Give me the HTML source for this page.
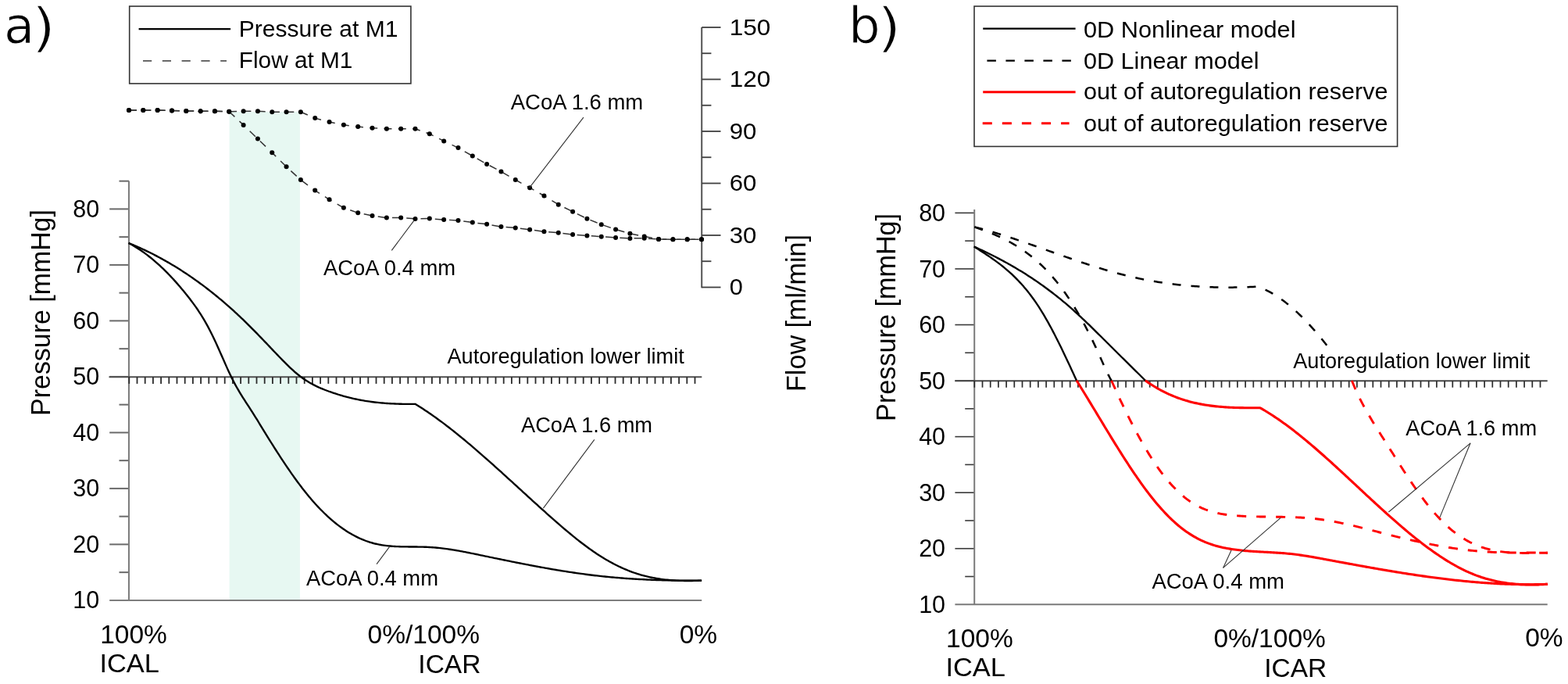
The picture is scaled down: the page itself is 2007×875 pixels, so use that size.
<!DOCTYPE html>
<html><head><meta charset="utf-8"><title>Figure</title>
<style>html,body{margin:0;padding:0;background:#fff;width:2007px;height:875px;overflow:hidden}svg{display:block}</style>
</head><body>
<svg width="2007" height="875" viewBox="0 0 2007 875">
<rect x="293.6" y="143" width="90.3" height="624.9" fill="#e7f8f2"/>
<line x1="152.5" y1="732.15" x2="165" y2="732.15" stroke="#6a6a6a" stroke-width="2.0" />
<line x1="140.2" y1="696.4" x2="165" y2="696.4" stroke="#6a6a6a" stroke-width="2.0" />
<line x1="152.5" y1="660.65" x2="165" y2="660.65" stroke="#6a6a6a" stroke-width="2.0" />
<line x1="140.2" y1="624.9" x2="165" y2="624.9" stroke="#6a6a6a" stroke-width="2.0" />
<line x1="152.5" y1="589.15" x2="165" y2="589.15" stroke="#6a6a6a" stroke-width="2.0" />
<line x1="140.2" y1="553.4" x2="165" y2="553.4" stroke="#6a6a6a" stroke-width="2.0" />
<line x1="152.5" y1="517.65" x2="165" y2="517.65" stroke="#6a6a6a" stroke-width="2.0" />
<line x1="140.2" y1="481.9" x2="165" y2="481.9" stroke="#6a6a6a" stroke-width="2.0" />
<line x1="152.5" y1="446.15" x2="165" y2="446.15" stroke="#6a6a6a" stroke-width="2.0" />
<line x1="140.2" y1="410.4" x2="165" y2="410.4" stroke="#6a6a6a" stroke-width="2.0" />
<line x1="152.5" y1="374.65" x2="165" y2="374.65" stroke="#6a6a6a" stroke-width="2.0" />
<line x1="140.2" y1="338.9" x2="165" y2="338.9" stroke="#6a6a6a" stroke-width="2.0" />
<line x1="152.5" y1="303.15" x2="165" y2="303.15" stroke="#6a6a6a" stroke-width="2.0" />
<line x1="140.2" y1="267.4" x2="165" y2="267.4" stroke="#6a6a6a" stroke-width="2.0" />
<line x1="152.5" y1="231.65" x2="165" y2="231.65" stroke="#6a6a6a" stroke-width="2.0" />
<line x1="165" y1="231.6" x2="165" y2="767.9" stroke="#7d7d7d" stroke-width="2.0" />
<line x1="140.2" y1="767.9" x2="898.2" y2="767.9" stroke="#7d7d7d" stroke-width="2.0" />
<text x="127.2" y="778.3" font-size="30.5" text-anchor="end" font-family='"Liberation Sans", Arial, sans-serif' >10</text>
<text x="127.2" y="706.8" font-size="30.5" text-anchor="end" font-family='"Liberation Sans", Arial, sans-serif' >20</text>
<text x="127.2" y="635.3" font-size="30.5" text-anchor="end" font-family='"Liberation Sans", Arial, sans-serif' >30</text>
<text x="127.2" y="563.8" font-size="30.5" text-anchor="end" font-family='"Liberation Sans", Arial, sans-serif' >40</text>
<text x="127.2" y="492.3" font-size="30.5" text-anchor="end" font-family='"Liberation Sans", Arial, sans-serif' >50</text>
<text x="127.2" y="420.8" font-size="30.5" text-anchor="end" font-family='"Liberation Sans", Arial, sans-serif' >60</text>
<text x="127.2" y="349.3" font-size="30.5" text-anchor="end" font-family='"Liberation Sans", Arial, sans-serif' >70</text>
<text x="127.2" y="277.8" font-size="30.5" text-anchor="end" font-family='"Liberation Sans", Arial, sans-serif' >80</text>
<line x1="898.2" y1="35" x2="898.2" y2="368.2" stroke="#555" stroke-width="2.0" />
<line x1="898.2" y1="367.5" x2="922.5" y2="367.5" stroke="#3f3f3f" stroke-width="1.8" />
<text x="933.75" y="377" font-size="29.5" text-anchor="start" font-family='"Liberation Sans", Arial, sans-serif' textLength="17.1" lengthAdjust="spacingAndGlyphs" >0</text>
<line x1="898.2" y1="334.25" x2="910.4" y2="334.25" stroke="#3f3f3f" stroke-width="1.8" />
<line x1="898.2" y1="301" x2="922.5" y2="301" stroke="#3f3f3f" stroke-width="1.8" />
<text x="933.75" y="310.5" font-size="29.5" text-anchor="start" font-family='"Liberation Sans", Arial, sans-serif' textLength="34.6" lengthAdjust="spacingAndGlyphs" >30</text>
<line x1="898.2" y1="267.75" x2="910.4" y2="267.75" stroke="#3f3f3f" stroke-width="1.8" />
<line x1="898.2" y1="234.5" x2="922.5" y2="234.5" stroke="#3f3f3f" stroke-width="1.8" />
<text x="933.75" y="244" font-size="29.5" text-anchor="start" font-family='"Liberation Sans", Arial, sans-serif' textLength="34.6" lengthAdjust="spacingAndGlyphs" >60</text>
<line x1="898.2" y1="201.25" x2="910.4" y2="201.25" stroke="#3f3f3f" stroke-width="1.8" />
<line x1="898.2" y1="168" x2="922.5" y2="168" stroke="#3f3f3f" stroke-width="1.8" />
<text x="933.75" y="177.5" font-size="29.5" text-anchor="start" font-family='"Liberation Sans", Arial, sans-serif' textLength="34.6" lengthAdjust="spacingAndGlyphs" >90</text>
<line x1="898.2" y1="134.75" x2="910.4" y2="134.75" stroke="#3f3f3f" stroke-width="1.8" />
<line x1="898.2" y1="101.5" x2="922.5" y2="101.5" stroke="#3f3f3f" stroke-width="1.8" />
<text x="933.75" y="111" font-size="29.5" text-anchor="start" font-family='"Liberation Sans", Arial, sans-serif' textLength="52.5" lengthAdjust="spacingAndGlyphs" >120</text>
<line x1="898.2" y1="68.25" x2="910.4" y2="68.25" stroke="#3f3f3f" stroke-width="1.8" />
<line x1="898.2" y1="35" x2="922.5" y2="35" stroke="#3f3f3f" stroke-width="1.8" />
<text x="933.75" y="44.5" font-size="29.5" text-anchor="start" font-family='"Liberation Sans", Arial, sans-serif' textLength="52.5" lengthAdjust="spacingAndGlyphs" >150</text>
<line x1="139.5" y1="482.2" x2="898.3" y2="482.2" stroke="#505050" stroke-width="1.9" />
<line x1="165.3" y1="482.2" x2="165.3" y2="490.9" stroke="#2b2b2b" stroke-width="1.8" />
<line x1="175.5" y1="482.2" x2="175.5" y2="490.9" stroke="#2b2b2b" stroke-width="1.8" />
<line x1="185.7" y1="482.2" x2="185.7" y2="490.9" stroke="#2b2b2b" stroke-width="1.8" />
<line x1="195.9" y1="482.2" x2="195.9" y2="490.9" stroke="#2b2b2b" stroke-width="1.8" />
<line x1="206.1" y1="482.2" x2="206.1" y2="490.9" stroke="#2b2b2b" stroke-width="1.8" />
<line x1="216.3" y1="482.2" x2="216.3" y2="490.9" stroke="#2b2b2b" stroke-width="1.8" />
<line x1="226.5" y1="482.2" x2="226.5" y2="490.9" stroke="#2b2b2b" stroke-width="1.8" />
<line x1="236.7" y1="482.2" x2="236.7" y2="490.9" stroke="#2b2b2b" stroke-width="1.8" />
<line x1="246.9" y1="482.2" x2="246.9" y2="490.9" stroke="#2b2b2b" stroke-width="1.8" />
<line x1="257.1" y1="482.2" x2="257.1" y2="490.9" stroke="#2b2b2b" stroke-width="1.8" />
<line x1="267.3" y1="482.2" x2="267.3" y2="490.9" stroke="#2b2b2b" stroke-width="1.8" />
<line x1="277.5" y1="482.2" x2="277.5" y2="490.9" stroke="#2b2b2b" stroke-width="1.8" />
<line x1="287.7" y1="482.2" x2="287.7" y2="490.9" stroke="#2b2b2b" stroke-width="1.8" />
<line x1="297.9" y1="482.2" x2="297.9" y2="490.9" stroke="#2b2b2b" stroke-width="1.8" />
<line x1="308.1" y1="482.2" x2="308.1" y2="490.9" stroke="#2b2b2b" stroke-width="1.8" />
<line x1="318.3" y1="482.2" x2="318.3" y2="490.9" stroke="#2b2b2b" stroke-width="1.8" />
<line x1="328.5" y1="482.2" x2="328.5" y2="490.9" stroke="#2b2b2b" stroke-width="1.8" />
<line x1="338.7" y1="482.2" x2="338.7" y2="490.9" stroke="#2b2b2b" stroke-width="1.8" />
<line x1="348.9" y1="482.2" x2="348.9" y2="490.9" stroke="#2b2b2b" stroke-width="1.8" />
<line x1="359.1" y1="482.2" x2="359.1" y2="490.9" stroke="#2b2b2b" stroke-width="1.8" />
<line x1="369.3" y1="482.2" x2="369.3" y2="490.9" stroke="#2b2b2b" stroke-width="1.8" />
<line x1="379.5" y1="482.2" x2="379.5" y2="490.9" stroke="#2b2b2b" stroke-width="1.8" />
<line x1="389.7" y1="482.2" x2="389.7" y2="490.9" stroke="#2b2b2b" stroke-width="1.8" />
<line x1="399.9" y1="482.2" x2="399.9" y2="490.9" stroke="#2b2b2b" stroke-width="1.8" />
<line x1="410.1" y1="482.2" x2="410.1" y2="490.9" stroke="#2b2b2b" stroke-width="1.8" />
<line x1="420.3" y1="482.2" x2="420.3" y2="490.9" stroke="#2b2b2b" stroke-width="1.8" />
<line x1="430.5" y1="482.2" x2="430.5" y2="490.9" stroke="#2b2b2b" stroke-width="1.8" />
<line x1="440.7" y1="482.2" x2="440.7" y2="490.9" stroke="#2b2b2b" stroke-width="1.8" />
<line x1="450.9" y1="482.2" x2="450.9" y2="490.9" stroke="#2b2b2b" stroke-width="1.8" />
<line x1="461.1" y1="482.2" x2="461.1" y2="490.9" stroke="#2b2b2b" stroke-width="1.8" />
<line x1="471.3" y1="482.2" x2="471.3" y2="490.9" stroke="#2b2b2b" stroke-width="1.8" />
<line x1="481.5" y1="482.2" x2="481.5" y2="490.9" stroke="#2b2b2b" stroke-width="1.8" />
<line x1="491.7" y1="482.2" x2="491.7" y2="490.9" stroke="#2b2b2b" stroke-width="1.8" />
<line x1="501.9" y1="482.2" x2="501.9" y2="490.9" stroke="#2b2b2b" stroke-width="1.8" />
<line x1="512.1" y1="482.2" x2="512.1" y2="490.9" stroke="#2b2b2b" stroke-width="1.8" />
<line x1="522.3" y1="482.2" x2="522.3" y2="490.9" stroke="#2b2b2b" stroke-width="1.8" />
<line x1="532.5" y1="482.2" x2="532.5" y2="490.9" stroke="#2b2b2b" stroke-width="1.8" />
<line x1="542.7" y1="482.2" x2="542.7" y2="490.9" stroke="#2b2b2b" stroke-width="1.8" />
<line x1="552.9" y1="482.2" x2="552.9" y2="490.9" stroke="#2b2b2b" stroke-width="1.8" />
<line x1="563.1" y1="482.2" x2="563.1" y2="490.9" stroke="#2b2b2b" stroke-width="1.8" />
<line x1="573.3" y1="482.2" x2="573.3" y2="490.9" stroke="#2b2b2b" stroke-width="1.8" />
<line x1="583.5" y1="482.2" x2="583.5" y2="490.9" stroke="#2b2b2b" stroke-width="1.8" />
<line x1="593.7" y1="482.2" x2="593.7" y2="490.9" stroke="#2b2b2b" stroke-width="1.8" />
<line x1="603.9" y1="482.2" x2="603.9" y2="490.9" stroke="#2b2b2b" stroke-width="1.8" />
<line x1="614.1" y1="482.2" x2="614.1" y2="490.9" stroke="#2b2b2b" stroke-width="1.8" />
<line x1="624.3" y1="482.2" x2="624.3" y2="490.9" stroke="#2b2b2b" stroke-width="1.8" />
<line x1="634.5" y1="482.2" x2="634.5" y2="490.9" stroke="#2b2b2b" stroke-width="1.8" />
<line x1="644.7" y1="482.2" x2="644.7" y2="490.9" stroke="#2b2b2b" stroke-width="1.8" />
<line x1="654.9" y1="482.2" x2="654.9" y2="490.9" stroke="#2b2b2b" stroke-width="1.8" />
<line x1="665.1" y1="482.2" x2="665.1" y2="490.9" stroke="#2b2b2b" stroke-width="1.8" />
<line x1="675.3" y1="482.2" x2="675.3" y2="490.9" stroke="#2b2b2b" stroke-width="1.8" />
<line x1="685.5" y1="482.2" x2="685.5" y2="490.9" stroke="#2b2b2b" stroke-width="1.8" />
<line x1="695.7" y1="482.2" x2="695.7" y2="490.9" stroke="#2b2b2b" stroke-width="1.8" />
<line x1="705.9" y1="482.2" x2="705.9" y2="490.9" stroke="#2b2b2b" stroke-width="1.8" />
<line x1="716.1" y1="482.2" x2="716.1" y2="490.9" stroke="#2b2b2b" stroke-width="1.8" />
<line x1="726.3" y1="482.2" x2="726.3" y2="490.9" stroke="#2b2b2b" stroke-width="1.8" />
<line x1="736.5" y1="482.2" x2="736.5" y2="490.9" stroke="#2b2b2b" stroke-width="1.8" />
<line x1="746.7" y1="482.2" x2="746.7" y2="490.9" stroke="#2b2b2b" stroke-width="1.8" />
<line x1="756.9" y1="482.2" x2="756.9" y2="490.9" stroke="#2b2b2b" stroke-width="1.8" />
<line x1="767.1" y1="482.2" x2="767.1" y2="490.9" stroke="#2b2b2b" stroke-width="1.8" />
<line x1="777.3" y1="482.2" x2="777.3" y2="490.9" stroke="#2b2b2b" stroke-width="1.8" />
<line x1="787.5" y1="482.2" x2="787.5" y2="490.9" stroke="#2b2b2b" stroke-width="1.8" />
<line x1="797.7" y1="482.2" x2="797.7" y2="490.9" stroke="#2b2b2b" stroke-width="1.8" />
<line x1="807.9" y1="482.2" x2="807.9" y2="490.9" stroke="#2b2b2b" stroke-width="1.8" />
<line x1="818.1" y1="482.2" x2="818.1" y2="490.9" stroke="#2b2b2b" stroke-width="1.8" />
<line x1="828.3" y1="482.2" x2="828.3" y2="490.9" stroke="#2b2b2b" stroke-width="1.8" />
<line x1="838.5" y1="482.2" x2="838.5" y2="490.9" stroke="#2b2b2b" stroke-width="1.8" />
<line x1="848.7" y1="482.2" x2="848.7" y2="490.9" stroke="#2b2b2b" stroke-width="1.8" />
<line x1="858.9" y1="482.2" x2="858.9" y2="490.9" stroke="#2b2b2b" stroke-width="1.8" />
<line x1="869.1" y1="482.2" x2="869.1" y2="490.9" stroke="#2b2b2b" stroke-width="1.8" />
<line x1="879.3" y1="482.2" x2="879.3" y2="490.9" stroke="#2b2b2b" stroke-width="1.8" />
<line x1="889.5" y1="482.2" x2="889.5" y2="490.9" stroke="#2b2b2b" stroke-width="1.8" />
<path d="M164.6,310.9 166.6,311.72 168.61,312.55 170.61,313.39 172.62,314.24 174.62,315.11 176.63,315.99 178.63,316.89 180.63,317.8 182.64,318.72 184.64,319.66 186.65,320.61 188.65,321.57 190.66,322.55 192.66,323.54 194.67,324.55 196.67,325.57 198.67,326.6 200.68,327.65 202.68,328.71 204.69,329.78 206.69,330.87 208.7,331.98 210.7,333.1 212.7,334.23 214.71,335.38 216.71,336.54 218.72,337.72 220.72,338.91 222.73,340.11 224.73,341.34 226.74,342.57 228.74,343.82 230.74,345.09 232.75,346.37 234.75,347.67 236.76,348.98 238.76,350.3 240.77,351.64 242.77,353 244.77,354.37 246.78,355.76 248.78,357.17 250.79,358.59 252.79,360.02 254.8,361.47 256.8,362.94 258.81,364.42 260.81,365.92 262.81,367.43 264.82,368.96 266.82,370.51 268.83,372.07 270.83,373.65 272.84,375.24 274.84,376.85 276.84,378.48 278.85,380.13 280.85,381.79 282.86,383.46 284.86,385.16 286.87,386.87 288.87,388.6 290.88,390.34 292.88,392.1 294.88,393.88 296.89,395.67 298.89,397.49 300.9,399.31 302.9,401.16 304.91,403.02 306.91,404.91 308.91,406.8 310.92,408.72 312.92,410.65 314.93,412.6 316.93,414.57 318.94,416.56 320.94,418.56 322.95,420.57 324.95,422.6 326.95,424.64 328.96,426.69 330.96,428.76 332.97,430.83 334.97,432.91 336.98,434.99 338.98,437.08 340.98,439.18 342.99,441.28 344.99,443.38 347,445.48 349,447.59 351.01,449.69 353.01,451.79 355.02,453.88 357.02,455.97 359.02,458.05 361.03,460.11 363.03,462.15 365.04,464.17 367.04,466.16 369.05,468.11 371.05,470.03 373.05,471.91 375.06,473.74 377.06,475.52 379.07,477.25 381.07,478.92 383.08,480.53 385.08,482.07 387.09,483.54 389.09,484.95 391.09,486.29 393.1,487.57 395.1,488.79 397.11,489.96 399.11,491.08 401.12,492.15 403.12,493.17 405.12,494.15 407.13,495.08 409.13,495.98 411.14,496.85 413.14,497.68 415.15,498.48 417.15,499.25 419.16,500 421.16,500.73 423.16,501.44 425.17,502.14 427.17,502.81 429.18,503.47 431.18,504.12 433.19,504.75 435.19,505.36 437.19,505.95 439.2,506.53 441.2,507.09 443.21,507.64 445.21,508.16 447.22,508.67 449.22,509.16 451.23,509.63 453.23,510.09 455.23,510.52 457.24,510.94 459.24,511.35 461.25,511.73 463.25,512.1 465.26,512.45 467.26,512.79 469.26,513.11 471.27,513.42 473.27,513.71 475.28,513.98 477.28,514.24 479.29,514.49 481.29,514.72 483.3,514.94 485.3,515.15 487.3,515.34 489.31,515.52 491.31,515.68 493.32,515.84 495.32,515.98 497.33,516.11 499.33,516.23 501.33,516.34 503.34,516.43 505.34,516.52 507.35,516.6 509.35,516.66 511.36,516.72 513.36,516.76 515.37,516.8 517.37,516.83 519.37,516.85 521.38,516.86 523.38,516.86 525.39,516.86 527.39,516.85 529.4,516.83 531.4,516.8 L531.4,516.8 533.4,518.03 535.41,519.27 537.41,520.53 539.42,521.81 541.42,523.1 543.42,524.42 545.43,525.75 547.43,527.09 549.43,528.46 551.44,529.84 553.44,531.23 555.45,532.64 557.45,534.07 559.45,535.51 561.46,536.96 563.46,538.43 565.47,539.92 567.47,541.41 569.47,542.93 571.48,544.45 573.48,545.99 575.48,547.54 577.49,549.1 579.49,550.68 581.5,552.26 583.5,553.86 585.5,555.47 587.51,557.09 589.51,558.72 591.51,560.36 593.52,562.02 595.52,563.68 597.53,565.35 599.53,567.03 601.53,568.72 603.54,570.42 605.54,572.12 607.55,573.84 609.55,575.56 611.55,577.29 613.56,579.03 615.56,580.78 617.56,582.53 619.57,584.29 621.57,586.05 623.58,587.82 625.58,589.6 627.58,591.38 629.59,593.17 631.59,594.96 633.6,596.76 635.6,598.56 637.6,600.37 639.61,602.17 641.61,603.99 643.61,605.8 645.62,607.62 647.62,609.44 649.63,611.26 651.63,613.09 653.63,614.91 655.64,616.74 657.64,618.57 659.64,620.4 661.65,622.23 663.65,624.06 665.66,625.9 667.66,627.73 669.66,629.56 671.67,631.39 673.67,633.22 675.68,635.04 677.68,636.87 679.68,638.69 681.69,640.52 683.69,642.34 685.69,644.15 687.7,645.97 689.7,647.78 691.71,649.58 693.71,651.39 695.71,653.18 697.72,654.98 699.72,656.77 701.73,658.55 703.73,660.33 705.73,662.11 707.74,663.87 709.74,665.64 711.74,667.39 713.75,669.14 715.75,670.88 717.76,672.61 719.76,674.33 721.76,676.05 723.77,677.75 725.77,679.44 727.77,681.12 729.78,682.78 731.78,684.43 733.79,686.07 735.79,687.69 737.79,689.3 739.8,690.89 741.8,692.46 743.81,694.01 745.81,695.55 747.81,697.06 749.82,698.56 751.82,700.03 753.82,701.48 755.83,702.91 757.83,704.32 759.84,705.7 761.84,707.06 763.84,708.4 765.85,709.71 767.85,710.99 769.86,712.25 771.86,713.49 773.86,714.7 775.87,715.89 777.87,717.05 779.87,718.18 781.88,719.29 783.88,720.37 785.89,721.43 787.89,722.46 789.89,723.47 791.9,724.45 793.9,725.4 795.9,726.32 797.91,727.22 799.91,728.09 801.92,728.94 803.92,729.76 805.92,730.55 807.93,731.31 809.93,732.04 811.94,732.75 813.94,733.43 815.94,734.08 817.95,734.7 819.95,735.3 821.95,735.86 823.96,736.41 825.96,736.93 827.97,737.42 829.97,737.89 831.97,738.33 833.98,738.75 835.98,739.15 837.99,739.52 839.99,739.88 841.99,740.21 844,740.52 846,740.81 848,741.08 850.01,741.32 852.01,741.55 854.02,741.76 856.02,741.96 858.02,742.13 860.03,742.29 862.03,742.43 864.03,742.55 866.04,742.66 868.04,742.75 870.05,742.83 872.05,742.89 874.05,742.94 876.06,742.97 878.06,743 880.07,743 882.07,743 884.07,742.99 886.08,742.96 888.08,742.92 890.08,742.88 892.09,742.82 894.09,742.76 896.1,742.68 898.1,742.6" fill="none" stroke="#000" stroke-width="2.35" stroke-linejoin="round" />
<path d="M164.6,310.9 166.6,311.97 168.61,313.08 170.61,314.22 172.62,315.41 174.62,316.65 176.62,317.92 178.63,319.23 180.63,320.58 182.64,321.97 184.64,323.41 186.65,324.88 188.65,326.39 190.65,327.95 192.66,329.54 194.66,331.17 196.67,332.85 198.67,334.56 200.67,336.31 202.68,338.1 204.68,339.93 206.69,341.8 208.69,343.71 210.69,345.66 212.7,347.65 214.7,349.67 216.71,351.74 218.71,353.84 220.71,355.98 222.72,358.16 224.72,360.38 226.73,362.64 228.73,364.94 230.74,367.27 232.74,369.64 234.74,372.05 236.75,374.5 238.75,376.98 240.76,379.5 242.76,382.06 244.76,384.68 246.77,387.35 248.77,390.08 250.78,392.9 252.78,395.79 254.78,398.78 256.79,401.87 258.79,405.07 260.8,408.39 262.8,411.83 264.8,415.41 266.81,419.14 268.81,423 270.82,426.98 272.82,431.08 274.83,435.29 276.83,439.58 278.83,443.97 280.84,448.42 282.84,452.94 284.85,457.5 286.85,462.07 288.85,466.62 290.86,471.12 292.86,475.51 294.87,479.77 296.87,483.88 298.87,487.82 300.88,491.6 302.88,495.22 304.89,498.71 306.89,502.09 308.9,505.37 310.9,508.57 312.9,511.71 314.91,514.8 316.91,517.88 318.92,520.95 320.92,524.03 322.92,527.14 324.93,530.3 326.93,533.51 328.94,536.74 330.94,540 332.94,543.27 334.95,546.55 336.95,549.82 338.96,553.09 340.96,556.34 342.96,559.58 344.97,562.8 346.97,566 348.98,569.19 350.98,572.35 352.99,575.5 354.99,578.62 356.99,581.72 359,584.8 361,587.85 363.01,590.87 365.01,593.87 367.01,596.84 369.02,599.78 371.02,602.69 373.03,605.56 375.03,608.4 377.03,611.21 379.04,613.98 381.04,616.71 383.05,619.41 385.05,622.06 387.05,624.68 389.06,627.25 391.06,629.78 393.07,632.27 395.07,634.71 397.08,637.1 399.08,639.45 401.08,641.75 403.09,644 405.09,646.2 407.1,648.36 409.1,650.47 411.1,652.53 413.11,654.54 415.11,656.51 417.12,658.43 419.12,660.3 421.12,662.13 423.13,663.91 425.13,665.64 427.14,667.33 429.14,668.97 431.15,670.56 433.15,672.11 435.15,673.61 437.16,675.07 439.16,676.48 441.17,677.84 443.17,679.16 445.17,680.44 447.18,681.67 449.18,682.85 451.19,683.99 453.19,685.08 455.19,686.13 457.2,687.14 459.2,688.1 461.21,689.01 463.21,689.88 465.21,690.71 467.22,691.49 469.22,692.23 471.23,692.93 473.23,693.58 475.24,694.19 477.24,694.75 479.24,695.27 481.25,695.75 483.25,696.2 485.26,696.6 487.26,696.97 489.26,697.31 491.27,697.61 493.27,697.88 495.28,698.13 497.28,698.35 499.28,698.54 501.29,698.71 503.29,698.85 505.3,698.98 507.3,699.08 509.3,699.17 511.31,699.25 513.31,699.31 515.32,699.36 517.32,699.4 519.33,699.43 521.33,699.45 523.33,699.47 525.34,699.48 527.34,699.49 529.35,699.5 531.35,699.51 533.35,699.53 535.36,699.55 537.36,699.57 539.37,699.61 541.37,699.65 543.37,699.71 545.38,699.78 547.38,699.86 549.39,699.96 551.39,700.07 553.4,700.21 555.4,700.36 557.4,700.53 559.41,700.72 561.41,700.92 563.42,701.13 565.42,701.36 567.42,701.61 569.43,701.87 571.43,702.14 573.44,702.42 575.44,702.72 577.44,703.02 579.45,703.34 581.45,703.67 583.46,704.01 585.46,704.35 587.46,704.71 589.47,705.07 591.47,705.44 593.48,705.82 595.48,706.2 597.49,706.59 599.49,706.99 601.49,707.39 603.5,707.79 605.5,708.2 607.51,708.61 609.51,709.02 611.51,709.44 613.52,709.86 615.52,710.28 617.53,710.69 619.53,711.11 621.53,711.53 623.54,711.95 625.54,712.37 627.55,712.78 629.55,713.2 631.55,713.61 633.56,714.03 635.56,714.44 637.57,714.86 639.57,715.27 641.58,715.68 643.58,716.09 645.58,716.5 647.59,716.91 649.59,717.32 651.6,717.72 653.6,718.13 655.6,718.53 657.61,718.93 659.61,719.33 661.62,719.73 663.62,720.13 665.62,720.52 667.63,720.92 669.63,721.31 671.64,721.7 673.64,722.08 675.65,722.47 677.65,722.85 679.65,723.24 681.66,723.61 683.66,723.99 685.67,724.37 687.67,724.74 689.67,725.11 691.68,725.47 693.68,725.84 695.69,726.2 697.69,726.56 699.69,726.91 701.7,727.27 703.7,727.62 705.71,727.97 707.71,728.31 709.71,728.65 711.72,728.99 713.72,729.32 715.73,729.65 717.73,729.98 719.74,730.31 721.74,730.63 723.74,730.95 725.75,731.26 727.75,731.57 729.76,731.88 731.76,732.18 733.76,732.48 735.77,732.77 737.77,733.06 739.78,733.35 741.78,733.63 743.78,733.91 745.79,734.18 747.79,734.45 749.8,734.72 751.8,734.98 753.8,735.23 755.81,735.48 757.81,735.73 759.82,735.97 761.82,736.21 763.83,736.44 765.83,736.67 767.83,736.89 769.84,737.11 771.84,737.32 773.85,737.53 775.85,737.73 777.85,737.93 779.86,738.13 781.86,738.32 783.87,738.5 785.87,738.68 787.87,738.86 789.88,739.03 791.88,739.2 793.89,739.36 795.89,739.52 797.9,739.67 799.9,739.82 801.9,739.97 803.91,740.11 805.91,740.24 807.92,740.38 809.92,740.5 811.92,740.63 813.93,740.75 815.93,740.87 817.94,740.98 819.94,741.09 821.94,741.19 823.95,741.29 825.95,741.39 827.96,741.48 829.96,741.57 831.96,741.66 833.97,741.74 835.97,741.82 837.98,741.89 839.98,741.96 841.99,742.03 843.99,742.09 845.99,742.15 848,742.21 850,742.26 852.01,742.31 854.01,742.36 856.01,742.4 858.02,742.44 860.02,742.48 862.03,742.51 864.03,742.54 866.03,742.57 868.04,742.59 870.04,742.61 872.05,742.63 874.05,742.65 876.05,742.66 878.06,742.67 880.06,742.67 882.07,742.68 884.07,742.68 886.08,742.67 888.08,742.67 890.08,742.66 892.09,742.65 894.09,742.63 896.1,742.62 898.1,742.6" fill="none" stroke="#000" stroke-width="2.35" stroke-linejoin="round" />
<path d="M165,141 L183.32,141 L201.65,141 L219.97,141.6 L238.3,141.9 L256.62,142.3 L274.95,142.3 L293.27,142.7 L311.6,142.3 L329.92,142.3 L348.25,143.2 L366.57,143.2 L384.9,143.2 L403.23,151.1 L421.55,156.1 L439.88,159.8 L458.2,162.1 L476.52,163.7 L494.85,164.8 L513.17,164.8 L531.5,164.8 L549.83,171.3 L568.15,180.4 L586.47,189.1 L604.8,199.5 L623.12,209.9 L641.45,219.5 L659.77,230 L678.1,240.2 L696.42,250.5 L714.75,261.7 L733.07,270.7 L751.4,279.8 L769.73,287.2 L788.05,293.5 L806.38,298.8 L824.7,302.5 L843.02,306 L861.35,306.3 L879.67,306.3 L898,306.3" fill="none" stroke="#333" stroke-width="1.5" stroke-dasharray="10 8.3" stroke-linejoin="round" />
<path d="M165,141 L183.32,141 L201.65,141 L219.97,141.6 L238.3,141.9 L256.62,142.3 L274.95,142.3 L293.27,142.7 L311.6,159.9 L329.92,177.6 L348.25,195.3 L366.57,213.3 L384.9,230.1 L403.23,243.6 L421.55,255.3 L439.88,265.8 L458.2,272.3 L476.52,276 L494.85,278.6 L513.17,278.6 L531.5,279.9 L549.83,279.6 L568.15,281 L586.47,282 L604.8,284.6 L623.12,286.8 L641.45,290.1 L659.77,291.4 L678.1,293.7 L696.42,296.3 L714.75,297.7 L733.07,300 L751.4,301.4 L769.73,302.8 L788.05,303.9 L806.38,304.9 L824.7,304.8 L843.02,306 L861.35,306.3 L879.67,306.3 L898,306.3" fill="none" stroke="#333" stroke-width="1.5" stroke-dasharray="10 8.3" stroke-linejoin="round" />
<circle cx="165" cy="141" r="3" fill="#000"/>
<circle cx="183.32" cy="141" r="3" fill="#000"/>
<circle cx="201.65" cy="141" r="3" fill="#000"/>
<circle cx="219.97" cy="141.6" r="3" fill="#000"/>
<circle cx="238.3" cy="141.9" r="3" fill="#000"/>
<circle cx="256.62" cy="142.3" r="3" fill="#000"/>
<circle cx="274.95" cy="142.3" r="3" fill="#000"/>
<circle cx="293.27" cy="142.7" r="3" fill="#000"/>
<circle cx="311.6" cy="142.3" r="3" fill="#000"/>
<circle cx="329.92" cy="142.3" r="3" fill="#000"/>
<circle cx="348.25" cy="143.2" r="3" fill="#000"/>
<circle cx="366.57" cy="143.2" r="3" fill="#000"/>
<circle cx="384.9" cy="143.2" r="3" fill="#000"/>
<circle cx="403.23" cy="151.1" r="3" fill="#000"/>
<circle cx="421.55" cy="156.1" r="3" fill="#000"/>
<circle cx="439.88" cy="159.8" r="3" fill="#000"/>
<circle cx="458.2" cy="162.1" r="3" fill="#000"/>
<circle cx="476.52" cy="163.7" r="3" fill="#000"/>
<circle cx="494.85" cy="164.8" r="3" fill="#000"/>
<circle cx="513.17" cy="164.8" r="3" fill="#000"/>
<circle cx="531.5" cy="164.8" r="3" fill="#000"/>
<circle cx="549.83" cy="171.3" r="3" fill="#000"/>
<circle cx="568.15" cy="180.4" r="3" fill="#000"/>
<circle cx="586.47" cy="189.1" r="3" fill="#000"/>
<circle cx="604.8" cy="199.5" r="3" fill="#000"/>
<circle cx="623.12" cy="209.9" r="3" fill="#000"/>
<circle cx="641.45" cy="219.5" r="3" fill="#000"/>
<circle cx="659.77" cy="230" r="3" fill="#000"/>
<circle cx="678.1" cy="240.2" r="3" fill="#000"/>
<circle cx="696.42" cy="250.5" r="3" fill="#000"/>
<circle cx="714.75" cy="261.7" r="3" fill="#000"/>
<circle cx="733.07" cy="270.7" r="3" fill="#000"/>
<circle cx="751.4" cy="279.8" r="3" fill="#000"/>
<circle cx="769.73" cy="287.2" r="3" fill="#000"/>
<circle cx="788.05" cy="293.5" r="3" fill="#000"/>
<circle cx="806.38" cy="298.8" r="3" fill="#000"/>
<circle cx="824.7" cy="302.5" r="3" fill="#000"/>
<circle cx="843.02" cy="306" r="3" fill="#000"/>
<circle cx="861.35" cy="306.3" r="3" fill="#000"/>
<circle cx="879.67" cy="306.3" r="3" fill="#000"/>
<circle cx="898" cy="306.3" r="3" fill="#000"/>
<circle cx="165" cy="141" r="3" fill="#000"/>
<circle cx="183.32" cy="141" r="3" fill="#000"/>
<circle cx="201.65" cy="141" r="3" fill="#000"/>
<circle cx="219.97" cy="141.6" r="3" fill="#000"/>
<circle cx="238.3" cy="141.9" r="3" fill="#000"/>
<circle cx="256.62" cy="142.3" r="3" fill="#000"/>
<circle cx="274.95" cy="142.3" r="3" fill="#000"/>
<circle cx="293.27" cy="142.7" r="3" fill="#000"/>
<circle cx="311.6" cy="159.9" r="3" fill="#000"/>
<circle cx="329.92" cy="177.6" r="3" fill="#000"/>
<circle cx="348.25" cy="195.3" r="3" fill="#000"/>
<circle cx="366.57" cy="213.3" r="3" fill="#000"/>
<circle cx="384.9" cy="230.1" r="3" fill="#000"/>
<circle cx="403.23" cy="243.6" r="3" fill="#000"/>
<circle cx="421.55" cy="255.3" r="3" fill="#000"/>
<circle cx="439.88" cy="265.8" r="3" fill="#000"/>
<circle cx="458.2" cy="272.3" r="3" fill="#000"/>
<circle cx="476.52" cy="276" r="3" fill="#000"/>
<circle cx="494.85" cy="278.6" r="3" fill="#000"/>
<circle cx="513.17" cy="278.6" r="3" fill="#000"/>
<circle cx="531.5" cy="279.9" r="3" fill="#000"/>
<circle cx="549.83" cy="279.6" r="3" fill="#000"/>
<circle cx="568.15" cy="281" r="3" fill="#000"/>
<circle cx="586.47" cy="282" r="3" fill="#000"/>
<circle cx="604.8" cy="284.6" r="3" fill="#000"/>
<circle cx="623.12" cy="286.8" r="3" fill="#000"/>
<circle cx="641.45" cy="290.1" r="3" fill="#000"/>
<circle cx="659.77" cy="291.4" r="3" fill="#000"/>
<circle cx="678.1" cy="293.7" r="3" fill="#000"/>
<circle cx="696.42" cy="296.3" r="3" fill="#000"/>
<circle cx="714.75" cy="297.7" r="3" fill="#000"/>
<circle cx="733.07" cy="300" r="3" fill="#000"/>
<circle cx="751.4" cy="301.4" r="3" fill="#000"/>
<circle cx="769.73" cy="302.8" r="3" fill="#000"/>
<circle cx="788.05" cy="303.9" r="3" fill="#000"/>
<circle cx="806.38" cy="304.9" r="3" fill="#000"/>
<circle cx="824.7" cy="304.8" r="3" fill="#000"/>
<circle cx="843.02" cy="306" r="3" fill="#000"/>
<circle cx="861.35" cy="306.3" r="3" fill="#000"/>
<circle cx="879.67" cy="306.3" r="3" fill="#000"/>
<circle cx="898" cy="306.3" r="3" fill="#000"/>
<line x1="746.9" y1="150.2" x2="677.7" y2="240.2" stroke="#333" stroke-width="1.1" />
<line x1="530.1" y1="281.8" x2="501.3" y2="320.4" stroke="#333" stroke-width="1.1" />
<line x1="695.4" y1="650.1" x2="760.8" y2="562.4" stroke="#333" stroke-width="1.1" />
<line x1="498.6" y1="699.4" x2="482.1" y2="721.7" stroke="#333" stroke-width="1.1" />
<text x="653.8" y="140.3" font-size="27" text-anchor="start" font-family='"Liberation Sans", Arial, sans-serif' textLength="169.4" lengthAdjust="spacingAndGlyphs" >ACoA 1.6 mm</text>
<text x="414" y="351.8" font-size="27" text-anchor="start" font-family='"Liberation Sans", Arial, sans-serif' textLength="169.2" lengthAdjust="spacingAndGlyphs" >ACoA 0.4 mm</text>
<text x="667" y="552.9" font-size="27" text-anchor="start" font-family='"Liberation Sans", Arial, sans-serif' textLength="168" lengthAdjust="spacingAndGlyphs" >ACoA 1.6 mm</text>
<text x="392" y="748.6" font-size="27" text-anchor="start" font-family='"Liberation Sans", Arial, sans-serif' textLength="169" lengthAdjust="spacingAndGlyphs" >ACoA 0.4 mm</text>
<text x="572.5" y="465.1" font-size="27" text-anchor="start" font-family='"Liberation Sans", Arial, sans-serif' textLength="303.3" lengthAdjust="spacingAndGlyphs" >Autoregulation lower limit</text>
<text x="128.2" y="822.7" font-size="33.5" text-anchor="start" font-family='"Liberation Sans", Arial, sans-serif' >100%</text>
<text x="127.4" y="860.3" font-size="33.5" text-anchor="start" font-family='"Liberation Sans", Arial, sans-serif' textLength="76.5" lengthAdjust="spacingAndGlyphs" >ICAL</text>
<text x="614" y="822.6" font-size="33.5" text-anchor="end" font-family='"Liberation Sans", Arial, sans-serif' >0%/100%</text>
<text x="615.4" y="860.8" font-size="33.5" text-anchor="end" font-family='"Liberation Sans", Arial, sans-serif' >ICAR</text>
<text x="918.1" y="822.6" font-size="33.5" text-anchor="end" font-family='"Liberation Sans", Arial, sans-serif' >0%</text>
<text transform="translate(63.6,400) rotate(-90)" font-size="34.5" text-anchor="middle" textLength="263.8" lengthAdjust="spacingAndGlyphs" font-family='"Liberation Sans", Arial, sans-serif'>Pressure [mmHg]</text>
<text transform="translate(1031,400.5) rotate(-90)" font-size="34.2" text-anchor="middle" textLength="201" lengthAdjust="spacingAndGlyphs" font-family='"Liberation Sans", Arial, sans-serif'>Flow [ml/min]</text>
<rect x="165.7" y="8" width="360.2" height="98.9" fill="#fff" stroke="#333" stroke-width="1.6"/>
<line x1="177.6" y1="37.1" x2="295.1" y2="37.1" stroke="#000" stroke-width="2.2" />
<line x1="183" y1="77.9" x2="290" y2="77.9" stroke="#555" stroke-width="1.7" stroke-dasharray="11.2 13.6"/>
<text x="305.8" y="47.2" font-size="29.5" text-anchor="start" font-family='"Liberation Sans", Arial, sans-serif' textLength="203.6" lengthAdjust="spacingAndGlyphs" >Pressure at M1</text>
<text x="305.8" y="87.4" font-size="29.5" text-anchor="start" font-family='"Liberation Sans", Arial, sans-serif' textLength="145.6" lengthAdjust="spacingAndGlyphs" >Flow at M1</text>
<text x="5" y="55" font-size="64" text-anchor="start" font-family='"DejaVu Sans", sans-serif' stroke="#fff" stroke-width="0.9">a</text>
<text transform="translate(40.0,58.8) scale(1.2,1)" font-size="68" stroke="#fff" stroke-width="1.6" font-family='"DejaVu Sans", sans-serif'>)</text>
<line x1="1235.2" y1="737.52" x2="1247.2" y2="737.52" stroke="#3a3a3a" stroke-width="1.6" />
<line x1="1222.4" y1="701.74" x2="1247.2" y2="701.74" stroke="#3a3a3a" stroke-width="1.6" />
<line x1="1235.2" y1="665.96" x2="1247.2" y2="665.96" stroke="#3a3a3a" stroke-width="1.6" />
<line x1="1222.4" y1="630.18" x2="1247.2" y2="630.18" stroke="#3a3a3a" stroke-width="1.6" />
<line x1="1235.2" y1="594.4" x2="1247.2" y2="594.4" stroke="#3a3a3a" stroke-width="1.6" />
<line x1="1222.4" y1="558.62" x2="1247.2" y2="558.62" stroke="#3a3a3a" stroke-width="1.6" />
<line x1="1235.2" y1="522.84" x2="1247.2" y2="522.84" stroke="#3a3a3a" stroke-width="1.6" />
<line x1="1222.4" y1="487.06" x2="1247.2" y2="487.06" stroke="#3a3a3a" stroke-width="1.6" />
<line x1="1235.2" y1="451.28" x2="1247.2" y2="451.28" stroke="#3a3a3a" stroke-width="1.6" />
<line x1="1222.4" y1="415.5" x2="1247.2" y2="415.5" stroke="#3a3a3a" stroke-width="1.6" />
<line x1="1235.2" y1="379.72" x2="1247.2" y2="379.72" stroke="#3a3a3a" stroke-width="1.6" />
<line x1="1222.4" y1="343.94" x2="1247.2" y2="343.94" stroke="#3a3a3a" stroke-width="1.6" />
<line x1="1235.2" y1="308.16" x2="1247.2" y2="308.16" stroke="#3a3a3a" stroke-width="1.6" />
<line x1="1222.4" y1="272.38" x2="1247.2" y2="272.38" stroke="#3a3a3a" stroke-width="1.6" />
<line x1="1247.2" y1="268" x2="1247.2" y2="773.3" stroke="#7a7a7a" stroke-width="2.0" />
<line x1="1222.4" y1="773.3" x2="1980.7" y2="773.3" stroke="#7a7a7a" stroke-width="2.0" />
<text x="1210.1" y="783.9" font-size="30.5" text-anchor="end" font-family='"Liberation Sans", Arial, sans-serif' >10</text>
<text x="1210.1" y="712.34" font-size="30.5" text-anchor="end" font-family='"Liberation Sans", Arial, sans-serif' >20</text>
<text x="1210.1" y="640.78" font-size="30.5" text-anchor="end" font-family='"Liberation Sans", Arial, sans-serif' >30</text>
<text x="1210.1" y="569.22" font-size="30.5" text-anchor="end" font-family='"Liberation Sans", Arial, sans-serif' >40</text>
<text x="1210.1" y="497.66" font-size="30.5" text-anchor="end" font-family='"Liberation Sans", Arial, sans-serif' >50</text>
<text x="1210.1" y="426.1" font-size="30.5" text-anchor="end" font-family='"Liberation Sans", Arial, sans-serif' >60</text>
<text x="1210.1" y="354.54" font-size="30.5" text-anchor="end" font-family='"Liberation Sans", Arial, sans-serif' >70</text>
<text x="1210.1" y="282.98" font-size="30.5" text-anchor="end" font-family='"Liberation Sans", Arial, sans-serif' >80</text>
<line x1="1222.4" y1="487.2" x2="1980.7" y2="487.2" stroke="#474747" stroke-width="1.9" />
<line x1="1247.3" y1="487.2" x2="1247.3" y2="495.7" stroke="#2b2b2b" stroke-width="1.7" />
<line x1="1257.5" y1="487.2" x2="1257.5" y2="495.7" stroke="#2b2b2b" stroke-width="1.7" />
<line x1="1267.7" y1="487.2" x2="1267.7" y2="495.7" stroke="#2b2b2b" stroke-width="1.7" />
<line x1="1277.9" y1="487.2" x2="1277.9" y2="495.7" stroke="#2b2b2b" stroke-width="1.7" />
<line x1="1288.1" y1="487.2" x2="1288.1" y2="495.7" stroke="#2b2b2b" stroke-width="1.7" />
<line x1="1298.3" y1="487.2" x2="1298.3" y2="495.7" stroke="#2b2b2b" stroke-width="1.7" />
<line x1="1308.5" y1="487.2" x2="1308.5" y2="495.7" stroke="#2b2b2b" stroke-width="1.7" />
<line x1="1318.7" y1="487.2" x2="1318.7" y2="495.7" stroke="#2b2b2b" stroke-width="1.7" />
<line x1="1328.9" y1="487.2" x2="1328.9" y2="495.7" stroke="#2b2b2b" stroke-width="1.7" />
<line x1="1339.1" y1="487.2" x2="1339.1" y2="495.7" stroke="#2b2b2b" stroke-width="1.7" />
<line x1="1349.3" y1="487.2" x2="1349.3" y2="495.7" stroke="#2b2b2b" stroke-width="1.7" />
<line x1="1359.5" y1="487.2" x2="1359.5" y2="495.7" stroke="#2b2b2b" stroke-width="1.7" />
<line x1="1369.7" y1="487.2" x2="1369.7" y2="495.7" stroke="#2b2b2b" stroke-width="1.7" />
<line x1="1379.9" y1="487.2" x2="1379.9" y2="495.7" stroke="#2b2b2b" stroke-width="1.7" />
<line x1="1390.1" y1="487.2" x2="1390.1" y2="495.7" stroke="#2b2b2b" stroke-width="1.7" />
<line x1="1400.3" y1="487.2" x2="1400.3" y2="495.7" stroke="#2b2b2b" stroke-width="1.7" />
<line x1="1410.5" y1="487.2" x2="1410.5" y2="495.7" stroke="#2b2b2b" stroke-width="1.7" />
<line x1="1420.7" y1="487.2" x2="1420.7" y2="495.7" stroke="#2b2b2b" stroke-width="1.7" />
<line x1="1430.9" y1="487.2" x2="1430.9" y2="495.7" stroke="#2b2b2b" stroke-width="1.7" />
<line x1="1441.1" y1="487.2" x2="1441.1" y2="495.7" stroke="#2b2b2b" stroke-width="1.7" />
<line x1="1451.3" y1="487.2" x2="1451.3" y2="495.7" stroke="#2b2b2b" stroke-width="1.7" />
<line x1="1461.5" y1="487.2" x2="1461.5" y2="495.7" stroke="#2b2b2b" stroke-width="1.7" />
<line x1="1471.7" y1="487.2" x2="1471.7" y2="495.7" stroke="#2b2b2b" stroke-width="1.7" />
<line x1="1481.9" y1="487.2" x2="1481.9" y2="495.7" stroke="#2b2b2b" stroke-width="1.7" />
<line x1="1492.1" y1="487.2" x2="1492.1" y2="495.7" stroke="#2b2b2b" stroke-width="1.7" />
<line x1="1502.3" y1="487.2" x2="1502.3" y2="495.7" stroke="#2b2b2b" stroke-width="1.7" />
<line x1="1512.5" y1="487.2" x2="1512.5" y2="495.7" stroke="#2b2b2b" stroke-width="1.7" />
<line x1="1522.7" y1="487.2" x2="1522.7" y2="495.7" stroke="#2b2b2b" stroke-width="1.7" />
<line x1="1532.9" y1="487.2" x2="1532.9" y2="495.7" stroke="#2b2b2b" stroke-width="1.7" />
<line x1="1543.1" y1="487.2" x2="1543.1" y2="495.7" stroke="#2b2b2b" stroke-width="1.7" />
<line x1="1553.3" y1="487.2" x2="1553.3" y2="495.7" stroke="#2b2b2b" stroke-width="1.7" />
<line x1="1563.5" y1="487.2" x2="1563.5" y2="495.7" stroke="#2b2b2b" stroke-width="1.7" />
<line x1="1573.7" y1="487.2" x2="1573.7" y2="495.7" stroke="#2b2b2b" stroke-width="1.7" />
<line x1="1583.9" y1="487.2" x2="1583.9" y2="495.7" stroke="#2b2b2b" stroke-width="1.7" />
<line x1="1594.1" y1="487.2" x2="1594.1" y2="495.7" stroke="#2b2b2b" stroke-width="1.7" />
<line x1="1604.3" y1="487.2" x2="1604.3" y2="495.7" stroke="#2b2b2b" stroke-width="1.7" />
<line x1="1614.5" y1="487.2" x2="1614.5" y2="495.7" stroke="#2b2b2b" stroke-width="1.7" />
<line x1="1624.7" y1="487.2" x2="1624.7" y2="495.7" stroke="#2b2b2b" stroke-width="1.7" />
<line x1="1634.9" y1="487.2" x2="1634.9" y2="495.7" stroke="#2b2b2b" stroke-width="1.7" />
<line x1="1645.1" y1="487.2" x2="1645.1" y2="495.7" stroke="#2b2b2b" stroke-width="1.7" />
<line x1="1655.3" y1="487.2" x2="1655.3" y2="495.7" stroke="#2b2b2b" stroke-width="1.7" />
<line x1="1665.5" y1="487.2" x2="1665.5" y2="495.7" stroke="#2b2b2b" stroke-width="1.7" />
<line x1="1675.7" y1="487.2" x2="1675.7" y2="495.7" stroke="#2b2b2b" stroke-width="1.7" />
<line x1="1685.9" y1="487.2" x2="1685.9" y2="495.7" stroke="#2b2b2b" stroke-width="1.7" />
<line x1="1696.1" y1="487.2" x2="1696.1" y2="495.7" stroke="#2b2b2b" stroke-width="1.7" />
<line x1="1706.3" y1="487.2" x2="1706.3" y2="495.7" stroke="#2b2b2b" stroke-width="1.7" />
<line x1="1716.5" y1="487.2" x2="1716.5" y2="495.7" stroke="#2b2b2b" stroke-width="1.7" />
<line x1="1726.7" y1="487.2" x2="1726.7" y2="495.7" stroke="#2b2b2b" stroke-width="1.7" />
<line x1="1736.9" y1="487.2" x2="1736.9" y2="495.7" stroke="#2b2b2b" stroke-width="1.7" />
<line x1="1747.1" y1="487.2" x2="1747.1" y2="495.7" stroke="#2b2b2b" stroke-width="1.7" />
<line x1="1757.3" y1="487.2" x2="1757.3" y2="495.7" stroke="#2b2b2b" stroke-width="1.7" />
<line x1="1767.5" y1="487.2" x2="1767.5" y2="495.7" stroke="#2b2b2b" stroke-width="1.7" />
<line x1="1777.7" y1="487.2" x2="1777.7" y2="495.7" stroke="#2b2b2b" stroke-width="1.7" />
<line x1="1787.9" y1="487.2" x2="1787.9" y2="495.7" stroke="#2b2b2b" stroke-width="1.7" />
<line x1="1798.1" y1="487.2" x2="1798.1" y2="495.7" stroke="#2b2b2b" stroke-width="1.7" />
<line x1="1808.3" y1="487.2" x2="1808.3" y2="495.7" stroke="#2b2b2b" stroke-width="1.7" />
<line x1="1818.5" y1="487.2" x2="1818.5" y2="495.7" stroke="#2b2b2b" stroke-width="1.7" />
<line x1="1828.7" y1="487.2" x2="1828.7" y2="495.7" stroke="#2b2b2b" stroke-width="1.7" />
<line x1="1838.9" y1="487.2" x2="1838.9" y2="495.7" stroke="#2b2b2b" stroke-width="1.7" />
<line x1="1849.1" y1="487.2" x2="1849.1" y2="495.7" stroke="#2b2b2b" stroke-width="1.7" />
<line x1="1859.3" y1="487.2" x2="1859.3" y2="495.7" stroke="#2b2b2b" stroke-width="1.7" />
<line x1="1869.5" y1="487.2" x2="1869.5" y2="495.7" stroke="#2b2b2b" stroke-width="1.7" />
<line x1="1879.7" y1="487.2" x2="1879.7" y2="495.7" stroke="#2b2b2b" stroke-width="1.7" />
<line x1="1889.9" y1="487.2" x2="1889.9" y2="495.7" stroke="#2b2b2b" stroke-width="1.7" />
<line x1="1900.1" y1="487.2" x2="1900.1" y2="495.7" stroke="#2b2b2b" stroke-width="1.7" />
<line x1="1910.3" y1="487.2" x2="1910.3" y2="495.7" stroke="#2b2b2b" stroke-width="1.7" />
<line x1="1920.5" y1="487.2" x2="1920.5" y2="495.7" stroke="#2b2b2b" stroke-width="1.7" />
<line x1="1930.7" y1="487.2" x2="1930.7" y2="495.7" stroke="#2b2b2b" stroke-width="1.7" />
<line x1="1940.9" y1="487.2" x2="1940.9" y2="495.7" stroke="#2b2b2b" stroke-width="1.7" />
<line x1="1951.1" y1="487.2" x2="1951.1" y2="495.7" stroke="#2b2b2b" stroke-width="1.7" />
<line x1="1961.3" y1="487.2" x2="1961.3" y2="495.7" stroke="#2b2b2b" stroke-width="1.7" />
<line x1="1971.5" y1="487.2" x2="1971.5" y2="495.7" stroke="#2b2b2b" stroke-width="1.7" />
<path d="M1247.4,290.4 1249.4,290.91 1251.41,291.43 1253.41,291.96 1255.41,292.5 1257.42,293.04 1259.42,293.6 1261.42,294.16 1263.43,294.73 1265.43,295.3 1267.43,295.88 1269.44,296.47 1271.44,297.07 1273.44,297.67 1275.45,298.27 1277.45,298.89 1279.45,299.51 1281.46,300.13 1283.46,300.76 1285.46,301.4 1287.47,302.04 1289.47,302.68 1291.47,303.33 1293.48,303.99 1295.48,304.65 1297.48,305.31 1299.49,305.98 1301.49,306.65 1303.49,307.33 1305.5,308.01 1307.5,308.69 1309.5,309.37 1311.51,310.06 1313.51,310.75 1315.51,311.44 1317.52,312.14 1319.52,312.84 1321.52,313.54 1323.53,314.24 1325.53,314.94 1327.53,315.65 1329.54,316.36 1331.54,317.06 1333.54,317.77 1335.55,318.48 1337.55,319.19 1339.55,319.9 1341.56,320.61 1343.56,321.32 1345.56,322.03 1347.57,322.75 1349.57,323.46 1351.57,324.17 1353.58,324.87 1355.58,325.58 1357.58,326.29 1359.59,326.99 1361.59,327.7 1363.59,328.4 1365.6,329.1 1367.6,329.8 1369.6,330.49 1371.61,331.19 1373.61,331.88 1375.61,332.56 1377.62,333.25 1379.62,333.93 1381.62,334.61 1383.63,335.29 1385.63,335.96 1387.63,336.62 1389.64,337.29 1391.64,337.95 1393.64,338.6 1395.65,339.25 1397.65,339.9 1399.65,340.54 1401.66,341.17 1403.66,341.8 1405.66,342.43 1407.67,343.05 1409.67,343.66 1411.67,344.27 1413.68,344.87 1415.68,345.46 1417.68,346.05 1419.69,346.63 1421.69,347.21 1423.69,347.78 1425.7,348.34 1427.7,348.89 1429.7,349.43 1431.7,349.97 1433.71,350.5 1435.71,351.02 1437.71,351.54 1439.72,352.04 1441.72,352.54 1443.72,353.02 1445.73,353.5 1447.73,353.97 1449.73,354.43 1451.74,354.88 1453.74,355.33 1455.74,355.76 1457.75,356.19 1459.75,356.61 1461.75,357.02 1463.76,357.42 1465.76,357.81 1467.76,358.19 1469.77,358.57 1471.77,358.94 1473.77,359.3 1475.78,359.65 1477.78,359.99 1479.78,360.33 1481.79,360.65 1483.79,360.97 1485.79,361.28 1487.8,361.59 1489.8,361.88 1491.8,362.17 1493.81,362.45 1495.81,362.72 1497.81,362.99 1499.82,363.24 1501.82,363.49 1503.82,363.73 1505.83,363.96 1507.83,364.19 1509.83,364.41 1511.84,364.62 1513.84,364.82 1515.84,365.02 1517.85,365.21 1519.85,365.39 1521.85,365.56 1523.86,365.73 1525.86,365.89 1527.86,366.04 1529.87,366.19 1531.87,366.32 1533.87,366.45 1535.88,366.58 1537.88,366.7 1539.88,366.81 1541.89,366.91 1543.89,367.01 1545.89,367.09 1547.9,367.18 1549.9,367.25 1551.9,367.32 1553.91,367.39 1555.91,367.44 1557.91,367.49 1559.92,367.53 1561.92,367.57 1563.92,367.6 1565.93,367.62 1567.93,367.64 1569.93,367.65 1571.94,367.66 1573.94,367.65 1575.94,367.65 1577.95,367.63 1579.95,367.61 1581.95,367.59 1583.96,367.55 1585.96,367.51 1587.96,367.47 1589.97,367.42 1591.97,367.36 1593.97,367.3 1595.98,367.23 1597.98,367.16 1599.98,367.08 1601.99,366.99 1603.99,366.9 1605.99,366.81 1608,366.7 1610,366.6 L1610,366.6 1612.01,367.34 1614.01,368.13 1616.02,368.97 1618.03,369.86 1620.03,370.8 1622.04,371.79 1624.05,372.83 1626.05,373.92 1628.06,375.05 1630.07,376.24 1632.07,377.47 1634.08,378.74 1636.09,380.07 1638.09,381.44 1640.1,382.85 1642.11,384.31 1644.11,385.82 1646.12,387.37 1648.13,388.96 1650.13,390.6 1652.14,392.28 1654.15,394 1656.15,395.76 1658.16,397.57 1660.17,399.42 1662.17,401.31 1664.18,403.23 1666.19,405.2 1668.19,407.21 1670.2,409.26 1672.21,411.35 1674.21,413.48 1676.22,415.64 1678.23,417.84 1680.23,420.08 1682.24,422.36 1684.25,424.67 1686.25,427.02 1688.26,429.41 1690.27,431.83 1692.27,434.28 1694.28,436.77 1696.29,439.3 1698.29,441.85 1700.3,444.44 1702.31,447.07 1704.31,449.72 1706.32,452.41 1708.33,455.13 1710.33,457.88 1712.34,460.66 1714.35,463.47 1716.35,466.31 1718.36,469.18 1720.37,472.08 1722.37,475.01 1724.38,477.97 1726.39,480.95 1728.39,483.96 1730.4,487" fill="none" stroke="#000" stroke-width="2.5" stroke-dasharray="11 13" stroke-linejoin="round" />
<path d="M1247.4,290.4 1249.41,291.11 1251.43,291.83 1253.44,292.55 1255.46,293.28 1257.47,294.02 1259.48,294.78 1261.5,295.54 1263.51,296.32 1265.52,297.11 1267.54,297.92 1269.55,298.74 1271.57,299.58 1273.58,300.44 1275.59,301.31 1277.61,302.21 1279.62,303.13 1281.63,304.07 1283.65,305.04 1285.66,306.03 1287.68,307.05 1289.69,308.09 1291.7,309.17 1293.72,310.27 1295.73,311.4 1297.74,312.57 1299.76,313.76 1301.77,315 1303.79,316.26 1305.8,317.57 1307.81,318.91 1309.83,320.28 1311.84,321.7 1313.86,323.16 1315.87,324.66 1317.88,326.2 1319.9,327.79 1321.91,329.42 1323.92,331.1 1325.94,332.82 1327.95,334.6 1329.97,336.42 1331.98,338.29 1333.99,340.22 1336.01,342.2 1338.02,344.23 1340.03,346.31 1342.05,348.46 1344.06,350.66 1346.08,352.92 1348.09,355.23 1350.1,357.61 1352.12,360.05 1354.13,362.55 1356.14,365.12 1358.16,367.75 1360.17,370.45 1362.19,373.21 1364.2,376.05 1366.21,378.95 1368.23,381.92 1370.24,384.97 1372.26,388.09 1374.27,391.28 1376.28,394.54 1378.3,397.88 1380.31,401.3 1382.32,404.8 1384.34,408.38 1386.35,412.04 1388.37,415.77 1390.38,419.59 1392.39,423.49 1394.41,427.46 1396.42,431.51 1398.43,435.64 1400.45,439.84 1402.46,444.12 1404.48,448.47 1406.49,452.89 1408.5,457.39 1410.52,461.94 1412.53,466.48 1414.54,470.95 1416.56,475.28 1418.57,479.41 1420.59,483.27 1422.6,486.8" fill="none" stroke="#000" stroke-width="2.5" stroke-dasharray="11 13" stroke-linejoin="round" />
<path d="M1246.8,315.5 1248.81,316.41 1250.82,317.33 1252.83,318.26 1254.84,319.2 1256.86,320.14 1258.87,321.09 1260.88,322.05 1262.89,323.03 1264.9,324.01 1266.91,325 1268.92,325.99 1270.93,327 1272.94,328.02 1274.95,329.05 1276.97,330.09 1278.98,331.15 1280.99,332.21 1283,333.28 1285.01,334.37 1287.02,335.46 1289.03,336.57 1291.04,337.69 1293.05,338.82 1295.06,339.97 1297.08,341.13 1299.09,342.3 1301.1,343.48 1303.11,344.68 1305.12,345.89 1307.13,347.11 1309.14,348.35 1311.15,349.6 1313.16,350.86 1315.17,352.14 1317.19,353.44 1319.2,354.75 1321.21,356.07 1323.22,357.41 1325.23,358.77 1327.24,360.14 1329.25,361.52 1331.26,362.93 1333.27,364.35 1335.28,365.78 1337.3,367.23 1339.31,368.7 1341.32,370.19 1343.33,371.69 1345.34,373.21 1347.35,374.75 1349.36,376.31 1351.37,377.88 1353.38,379.47 1355.39,381.08 1357.41,382.71 1359.42,384.36 1361.43,386.03 1363.44,387.72 1365.45,389.42 1367.46,391.15 1369.47,392.9 1371.48,394.66 1373.49,396.45 1375.5,398.26 1377.52,400.08 1379.53,401.92 1381.54,403.78 1383.55,405.65 1385.56,407.54 1387.57,409.44 1389.58,411.36 1391.59,413.29 1393.6,415.22 1395.61,417.17 1397.63,419.13 1399.64,421.1 1401.65,423.07 1403.66,425.05 1405.67,427.04 1407.68,429.03 1409.69,431.03 1411.7,433.03 1413.71,435.03 1415.72,437.03 1417.74,439.04 1419.75,441.04 1421.76,443.04 1423.77,445.04 1425.78,447.04 1427.79,449.03 1429.8,451.02 1431.81,453.01 1433.82,454.99 1435.83,456.97 1437.85,458.95 1439.86,460.93 1441.87,462.91 1443.88,464.89 1445.89,466.87 1447.9,468.85 1449.91,470.83 1451.92,472.81 1453.93,474.8 1455.94,476.79 1457.96,478.78 1459.97,480.78 1461.98,482.78 1463.99,484.78 1466,486.8" fill="none" stroke="#000" stroke-width="2.35" stroke-linejoin="round" />
<path d="M1246.8,315.5 1248.82,316.79 1250.84,318.07 1252.86,319.36 1254.87,320.66 1256.89,321.96 1258.91,323.27 1260.93,324.59 1262.95,325.92 1264.97,327.27 1266.98,328.64 1269,330.03 1271.02,331.44 1273.04,332.88 1275.06,334.34 1277.08,335.83 1279.1,337.36 1281.11,338.92 1283.13,340.51 1285.15,342.15 1287.17,343.82 1289.19,345.54 1291.21,347.3 1293.22,349.11 1295.24,350.97 1297.26,352.88 1299.28,354.85 1301.3,356.87 1303.32,358.95 1305.34,361.1 1307.35,363.31 1309.37,365.58 1311.39,367.92 1313.41,370.33 1315.43,372.81 1317.45,375.37 1319.46,378.01 1321.48,380.72 1323.5,383.52 1325.52,386.4 1327.54,389.37 1329.56,392.42 1331.58,395.57 1333.59,398.8 1335.61,402.14 1337.63,405.56 1339.65,409.06 1341.67,412.65 1343.69,416.32 1345.7,420.06 1347.72,423.87 1349.74,427.75 1351.76,431.69 1353.78,435.68 1355.8,439.74 1357.82,443.84 1359.83,447.99 1361.85,452.18 1363.87,456.41 1365.89,460.68 1367.91,464.98 1369.93,469.3 1371.94,473.65 1373.96,478.02 1375.98,482.41 1378,486.8" fill="none" stroke="#000" stroke-width="2.35" stroke-linejoin="round" />
<path d="M1422.6,486.79 1424.6,491.27 1426.6,495.7 1428.6,500.1 1430.61,504.45 1432.61,508.76 1434.61,513.02 1436.61,517.24 1438.61,521.41 1440.61,525.53 1442.61,529.61 1444.62,533.63 1446.62,537.6 1448.62,541.52 1450.62,545.39 1452.62,549.2 1454.62,552.96 1456.62,556.66 1458.63,560.3 1460.63,563.88 1462.63,567.41 1464.63,570.87 1466.63,574.27 1468.63,577.6 1470.63,580.87 1472.64,584.07 1474.64,587.21 1476.64,590.28 1478.64,593.27 1480.64,596.2 1482.64,599.06 1484.64,601.84 1486.65,604.55 1488.65,607.19 1490.65,609.75 1492.65,612.24 1494.65,614.66 1496.65,617.01 1498.65,619.28 1500.66,621.48 1502.66,623.61 1504.66,625.67 1506.66,627.66 1508.66,629.58 1510.66,631.42 1512.66,633.2 1514.67,634.9 1516.67,636.54 1518.67,638.1 1520.67,639.59 1522.67,641.02 1524.67,642.37 1526.67,643.66 1528.68,644.88 1530.68,646.04 1532.68,647.13 1534.68,648.16 1536.68,649.14 1538.68,650.06 1540.68,650.92 1542.69,651.73 1544.69,652.49 1546.69,653.19 1548.69,653.86 1550.69,654.47 1552.69,655.05 1554.69,655.58 1556.7,656.07 1558.7,656.53 1560.7,656.95 1562.7,657.33 1564.7,657.68 1566.7,658.01 1568.7,658.3 1570.71,658.57 1572.71,658.82 1574.71,659.04 1576.71,659.25 1578.71,659.43 1580.71,659.6 1582.71,659.75 1584.72,659.89 1586.72,660.02 1588.72,660.14 1590.72,660.25 1592.72,660.35 1594.72,660.44 1596.72,660.53 1598.73,660.6 1600.73,660.67 1602.73,660.73 1604.73,660.79 1606.73,660.84 1608.73,660.88 1610.73,660.92 1612.74,660.96 1614.74,660.99 1616.74,661.02 1618.74,661.04 1620.74,661.06 1622.74,661.09 1624.74,661.11 1626.75,661.13 1628.75,661.15 1630.75,661.17 1632.75,661.19 1634.75,661.21 1636.75,661.24 1638.75,661.26 1640.76,661.29 1642.76,661.33 1644.76,661.36 1646.76,661.41 1648.76,661.45 1650.76,661.51 1652.76,661.56 1654.77,661.63 1656.77,661.7 1658.77,661.78 1660.77,661.87 1662.77,661.97 1664.77,662.07 1666.77,662.19 1668.78,662.32 1670.78,662.45 1672.78,662.6 1674.78,662.76 1676.78,662.93 1678.78,663.12 1680.78,663.31 1682.79,663.53 1684.79,663.75 1686.79,663.99 1688.79,664.25 1690.79,664.52 1692.79,664.8 1694.79,665.09 1696.8,665.4 1698.8,665.72 1700.8,666.05 1702.8,666.39 1704.8,666.75 1706.8,667.11 1708.81,667.49 1710.81,667.87 1712.81,668.27 1714.81,668.67 1716.81,669.09 1718.81,669.51 1720.81,669.94 1722.82,670.38 1724.82,670.82 1726.82,671.27 1728.82,671.73 1730.82,672.2 1732.82,672.67 1734.82,673.15 1736.83,673.63 1738.83,674.12 1740.83,674.61 1742.83,675.11 1744.83,675.61 1746.83,676.11 1748.83,676.62 1750.84,677.12 1752.84,677.64 1754.84,678.15 1756.84,678.66 1758.84,679.18 1760.84,679.7 1762.84,680.21 1764.85,680.73 1766.85,681.25 1768.85,681.76 1770.85,682.28 1772.85,682.79 1774.85,683.31 1776.85,683.82 1778.86,684.32 1780.86,684.83 1782.86,685.33 1784.86,685.83 1786.86,686.32 1788.86,686.82 1790.86,687.3 1792.87,687.79 1794.87,688.27 1796.87,688.75 1798.87,689.22 1800.87,689.69 1802.87,690.15 1804.87,690.61 1806.88,691.07 1808.88,691.52 1810.88,691.97 1812.88,692.41 1814.88,692.85 1816.88,693.28 1818.88,693.71 1820.89,694.14 1822.89,694.55 1824.89,694.97 1826.89,695.37 1828.89,695.78 1830.89,696.17 1832.89,696.56 1834.9,696.95 1836.9,697.33 1838.9,697.7 1840.9,698.07 1842.9,698.43 1844.9,698.79 1846.9,699.13 1848.91,699.48 1850.91,699.81 1852.91,700.14 1854.91,700.46 1856.91,700.78 1858.91,701.09 1860.91,701.39 1862.92,701.68 1864.92,701.97 1866.92,702.25 1868.92,702.52 1870.92,702.79 1872.92,703.04 1874.92,703.29 1876.93,703.54 1878.93,703.77 1880.93,703.99 1882.93,704.21 1884.93,704.42 1886.93,704.62 1888.93,704.81 1890.94,705 1892.94,705.17 1894.94,705.34 1896.94,705.5 1898.94,705.64 1900.94,705.78 1902.94,705.91 1904.95,706.03 1906.95,706.15 1908.95,706.25 1910.95,706.34 1912.95,706.43 1914.95,706.51 1916.95,706.58 1918.96,706.64 1920.96,706.7 1922.96,706.75 1924.96,706.8 1926.96,706.84 1928.96,706.87 1930.96,706.91 1932.97,706.93 1934.97,706.95 1936.97,706.97 1938.97,706.99 1940.97,707 1942.97,707.01 1944.97,707.02 1946.98,707.02 1948.98,707.03 1950.98,707.03 1952.98,707.03 1954.98,707.03 1956.98,707.04 1958.98,707.04 1960.99,707.04 1962.99,707.05 1964.99,707.05 1966.99,707.06 1968.99,707.07 1970.99,707.08 1972.99,707.1 1975,707.12 1977,707.14 1979,707.17 1981,707.2" fill="none" stroke="#ff0000" stroke-width="2.9" stroke-dasharray="12 13" stroke-linejoin="round" />
<path d="M1730.4,487 1732.4,491.94 1734.41,496.65 1736.41,501.15 1738.42,505.47 1740.42,509.61 1742.43,513.6 1744.43,517.44 1746.44,521.16 1748.44,524.76 1750.45,528.27 1752.45,531.7 1754.46,535.06 1756.46,538.38 1758.47,541.65 1760.47,544.9 1762.48,548.12 1764.48,551.31 1766.49,554.49 1768.49,557.66 1770.5,560.82 1772.5,563.98 1774.51,567.14 1776.51,570.3 1778.52,573.48 1780.52,576.66 1782.52,579.84 1784.53,583.02 1786.53,586.19 1788.54,589.36 1790.54,592.52 1792.55,595.67 1794.55,598.8 1796.56,601.92 1798.56,605.02 1800.57,608.09 1802.57,611.14 1804.58,614.16 1806.58,617.15 1808.59,620.11 1810.59,623.03 1812.6,625.91 1814.6,628.75 1816.61,631.54 1818.61,634.29 1820.62,636.99 1822.62,639.65 1824.63,642.25 1826.63,644.81 1828.64,647.32 1830.64,649.78 1832.64,652.19 1834.65,654.54 1836.65,656.85 1838.66,659.1 1840.66,661.3 1842.67,663.44 1844.67,665.53 1846.68,667.56 1848.68,669.54 1850.69,671.45 1852.69,673.31 1854.7,675.11 1856.7,676.86 1858.71,678.54 1860.71,680.16 1862.72,681.72 1864.72,683.22 1866.73,684.66 1868.73,686.05 1870.74,687.37 1872.74,688.65 1874.75,689.86 1876.75,691.03 1878.76,692.14 1880.76,693.21 1882.76,694.22 1884.77,695.19 1886.77,696.1 1888.78,696.98 1890.78,697.8 1892.79,698.59 1894.79,699.33 1896.8,700.03 1898.8,700.69 1900.81,701.31 1902.81,701.89 1904.82,702.43 1906.82,702.94 1908.83,703.42 1910.83,703.86 1912.84,704.27 1914.84,704.65 1916.85,704.99 1918.85,705.31 1920.86,705.61 1922.86,705.87 1924.87,706.11 1926.87,706.33 1928.88,706.52 1930.88,706.69 1932.88,706.84 1934.89,706.97 1936.89,707.08 1938.9,707.18 1940.9,707.26 1942.91,707.32 1944.91,707.37 1946.92,707.41 1948.92,707.43 1950.93,707.45 1952.93,707.45 1954.94,707.45 1956.94,707.44 1958.95,707.42 1960.95,707.4 1962.96,707.38 1964.96,707.36 1966.97,707.33 1968.97,707.3 1970.98,707.27 1972.98,707.25 1974.99,707.23 1976.99,707.21 1979,707.2 1981,707.2" fill="none" stroke="#ff0000" stroke-width="2.9" stroke-dasharray="12 13" stroke-linejoin="round" />
<path d="M1466,486.8 1468.01,488.23 1470.03,489.61 1472.04,490.96 1474.05,492.26 1476.07,493.53 1478.08,494.77 1480.1,495.96 1482.11,497.12 1484.12,498.25 1486.14,499.34 1488.15,500.4 1490.16,501.42 1492.18,502.41 1494.19,503.36 1496.21,504.29 1498.22,505.18 1500.23,506.04 1502.25,506.88 1504.26,507.68 1506.27,508.45 1508.29,509.19 1510.3,509.91 1512.32,510.6 1514.33,511.26 1516.34,511.89 1518.36,512.5 1520.37,513.08 1522.38,513.64 1524.4,514.18 1526.41,514.68 1528.42,515.17 1530.44,515.63 1532.45,516.08 1534.47,516.49 1536.48,516.89 1538.49,517.27 1540.51,517.63 1542.52,517.97 1544.53,518.29 1546.55,518.59 1548.56,518.87 1550.58,519.14 1552.59,519.39 1554.6,519.62 1556.62,519.84 1558.63,520.04 1560.64,520.23 1562.66,520.4 1564.67,520.56 1566.68,520.71 1568.7,520.84 1570.71,520.97 1572.73,521.08 1574.74,521.18 1576.75,521.27 1578.77,521.35 1580.78,521.43 1582.79,521.49 1584.81,521.55 1586.82,521.59 1588.84,521.64 1590.85,521.67 1592.86,521.7 1594.88,521.73 1596.89,521.75 1598.9,521.76 1600.92,521.77 1602.93,521.78 1604.95,521.79 1606.96,521.79 1608.97,521.8 1610.99,521.8 1613,521.8 L1613,521.8 1615,522.94 1617,524.1 1619,525.28 1621,526.49 1623,527.71 1625,528.96 1627,530.24 1629,531.53 1631,532.84 1633,534.18 1635,535.53 1637,536.9 1639,538.3 1641,539.71 1643,541.14 1645,542.58 1647,544.05 1649,545.53 1651,547.03 1653,548.55 1655,550.08 1657,551.63 1659,553.19 1661,554.77 1663,556.37 1665,557.97 1667,559.59 1669,561.23 1671,562.88 1673,564.54 1675,566.21 1677,567.9 1679,569.59 1681,571.3 1683,573.02 1685,574.75 1687,576.48 1689,578.23 1691,579.99 1693,581.76 1695,583.53 1697,585.31 1699,587.11 1701,588.9 1703,590.71 1705,592.52 1707,594.34 1709,596.16 1711,597.99 1713,599.82 1715,601.66 1717,603.51 1719,605.35 1721,607.2 1723,609.06 1725,610.91 1727,612.77 1729,614.63 1731,616.49 1733,618.36 1735,620.22 1737,622.08 1739,623.95 1741,625.81 1743,627.67 1745,629.54 1747,631.4 1749,633.26 1751,635.11 1753,636.97 1755,638.82 1757,640.66 1759,642.51 1761,644.35 1763,646.18 1765,648.01 1767,649.84 1769,651.65 1771,653.47 1773,655.27 1775,657.07 1777,658.87 1779,660.65 1781,662.43 1783,664.19 1785,665.95 1787,667.7 1789,669.44 1791,671.17 1793,672.89 1795,674.6 1797,676.3 1799,677.99 1801,679.66 1803,681.33 1805,682.98 1807,684.62 1809,686.24 1811,687.85 1813,689.45 1815,691.03 1817,692.59 1819,694.15 1821,695.68 1823,697.2 1825,698.7 1827,700.19 1829,701.66 1831,703.11 1833,704.55 1835,705.96 1837,707.36 1839,708.74 1841,710.09 1843,711.43 1845,712.75 1847,714.05 1849,715.33 1851,716.58 1853,717.81 1855,719.03 1857,720.21 1859,721.38 1861,722.52 1863,723.64 1865,724.74 1867,725.81 1869,726.85 1871,727.87 1873,728.87 1875,729.84 1877,730.78 1879,731.7 1881,732.59 1883,733.45 1885,734.28 1887,735.09 1889,735.86 1891,736.61 1893,737.33 1895,738.02 1897,738.69 1899,739.32 1901,739.94 1903,740.52 1905,741.08 1907,741.61 1909,742.12 1911,742.61 1913,743.07 1915,743.5 1917,743.92 1919,744.31 1921,744.68 1923,745.02 1925,745.35 1927,745.65 1929,745.93 1931,746.19 1933,746.43 1935,746.66 1937,746.86 1939,747.04 1941,747.21 1943,747.36 1945,747.49 1947,747.6 1949,747.7 1951,747.78 1953,747.84 1955,747.89 1957,747.92 1959,747.94 1961,747.95 1963,747.94 1965,747.92 1967,747.88 1969,747.83 1971,747.77 1973,747.7 1975,747.61 1977,747.52 1979,747.41 1981,747.3" fill="none" stroke="#ff0000" stroke-width="3.1" stroke-linejoin="round" />
<path d="M1378,486.8 1380,490 1382.01,493.22 1384.01,496.46 1386.01,499.71 1388.02,502.97 1390.02,506.25 1392.02,509.53 1394.03,512.83 1396.03,516.13 1398.03,519.43 1400.04,522.74 1402.04,526.06 1404.04,529.37 1406.05,532.69 1408.05,536 1410.05,539.32 1412.06,542.63 1414.06,545.93 1416.06,549.23 1418.07,552.52 1420.07,555.81 1422.07,559.08 1424.08,562.34 1426.08,565.59 1428.08,568.82 1430.09,572.04 1432.09,575.24 1434.09,578.43 1436.1,581.59 1438.1,584.73 1440.1,587.85 1442.11,590.95 1444.11,594.02 1446.11,597.07 1448.12,600.09 1450.12,603.08 1452.12,606.04 1454.13,608.97 1456.13,611.86 1458.13,614.72 1460.14,617.55 1462.14,620.34 1464.14,623.09 1466.15,625.8 1468.15,628.48 1470.15,631.11 1472.16,633.7 1474.16,636.25 1476.16,638.76 1478.17,641.22 1480.17,643.64 1482.17,646.01 1484.18,648.33 1486.18,650.61 1488.18,652.83 1490.19,655.01 1492.19,657.13 1494.19,659.2 1496.2,661.22 1498.2,663.19 1500.2,665.1 1502.21,666.96 1504.21,668.76 1506.21,670.51 1508.22,672.2 1510.22,673.84 1512.22,675.43 1514.23,676.97 1516.23,678.46 1518.23,679.89 1520.24,681.28 1522.24,682.61 1524.24,683.9 1526.25,685.14 1528.25,686.32 1530.25,687.46 1532.26,688.55 1534.26,689.6 1536.26,690.59 1538.27,691.54 1540.27,692.45 1542.27,693.31 1544.28,694.13 1546.28,694.9 1548.28,695.63 1550.29,696.33 1552.29,696.99 1554.29,697.61 1556.3,698.2 1558.3,698.75 1560.3,699.27 1562.31,699.76 1564.31,700.23 1566.31,700.66 1568.32,701.07 1570.32,701.45 1572.32,701.82 1574.33,702.15 1576.33,702.47 1578.33,702.77 1580.34,703.06 1582.34,703.32 1584.34,703.57 1586.35,703.8 1588.35,704.02 1590.35,704.23 1592.36,704.42 1594.36,704.6 1596.36,704.78 1598.37,704.94 1600.37,705.09 1602.37,705.23 1604.38,705.37 1606.38,705.5 1608.38,705.62 1610.39,705.74 1612.39,705.85 1614.39,705.96 1616.4,706.07 1618.4,706.18 1620.4,706.28 1622.41,706.39 1624.41,706.5 1626.41,706.61 1628.42,706.72 1630.42,706.83 1632.42,706.95 1634.43,707.08 1636.43,707.21 1638.43,707.34 1640.44,707.49 1642.44,707.64 1644.44,707.81 1646.45,707.98 1648.45,708.17 1650.45,708.36 1652.46,708.57 1654.46,708.79 1656.46,709.03 1658.47,709.28 1660.47,709.54 1662.47,709.81 1664.48,710.09 1666.48,710.38 1668.48,710.68 1670.49,710.99 1672.49,711.31 1674.49,711.63 1676.5,711.96 1678.5,712.3 1680.5,712.65 1682.5,713 1684.51,713.35 1686.51,713.71 1688.51,714.07 1690.52,714.44 1692.52,714.81 1694.52,715.18 1696.53,715.55 1698.53,715.92 1700.53,716.3 1702.54,716.67 1704.54,717.04 1706.54,717.42 1708.55,717.79 1710.55,718.16 1712.55,718.53 1714.56,718.9 1716.56,719.27 1718.56,719.64 1720.57,720.01 1722.57,720.38 1724.57,720.75 1726.58,721.12 1728.58,721.48 1730.58,721.85 1732.59,722.21 1734.59,722.58 1736.59,722.94 1738.6,723.31 1740.6,723.67 1742.6,724.03 1744.61,724.39 1746.61,724.75 1748.61,725.1 1750.62,725.46 1752.62,725.81 1754.62,726.17 1756.63,726.52 1758.63,726.87 1760.63,727.22 1762.64,727.57 1764.64,727.92 1766.64,728.26 1768.65,728.61 1770.65,728.95 1772.65,729.29 1774.66,729.63 1776.66,729.96 1778.66,730.3 1780.67,730.63 1782.67,730.96 1784.67,731.29 1786.68,731.62 1788.68,731.94 1790.68,732.27 1792.69,732.59 1794.69,732.91 1796.69,733.23 1798.7,733.54 1800.7,733.85 1802.7,734.16 1804.71,734.47 1806.71,734.78 1808.71,735.08 1810.72,735.38 1812.72,735.68 1814.72,735.97 1816.73,736.27 1818.73,736.56 1820.73,736.84 1822.74,737.13 1824.74,737.41 1826.74,737.69 1828.75,737.97 1830.75,738.24 1832.75,738.51 1834.76,738.78 1836.76,739.04 1838.76,739.3 1840.77,739.56 1842.77,739.82 1844.77,740.07 1846.78,740.32 1848.78,740.56 1850.78,740.8 1852.79,741.04 1854.79,741.28 1856.79,741.51 1858.8,741.74 1860.8,741.96 1862.8,742.18 1864.81,742.4 1866.81,742.61 1868.81,742.82 1870.82,743.03 1872.82,743.23 1874.82,743.43 1876.83,743.62 1878.83,743.81 1880.83,744 1882.84,744.18 1884.84,744.36 1886.84,744.54 1888.85,744.71 1890.85,744.87 1892.85,745.03 1894.86,745.19 1896.86,745.35 1898.86,745.49 1900.87,745.64 1902.87,745.78 1904.87,745.91 1906.88,746.04 1908.88,746.17 1910.88,746.29 1912.89,746.41 1914.89,746.52 1916.89,746.63 1918.9,746.73 1920.9,746.83 1922.9,746.92 1924.91,747.01 1926.91,747.09 1928.91,747.17 1930.92,747.24 1932.92,747.31 1934.92,747.38 1936.93,747.43 1938.93,747.48 1940.93,747.53 1942.94,747.57 1944.94,747.61 1946.94,747.64 1948.95,747.67 1950.95,747.69 1952.95,747.7 1954.96,747.71 1956.96,747.71 1958.96,747.71 1960.97,747.7 1962.97,747.69 1964.97,747.67 1966.98,747.64 1968.98,747.61 1970.98,747.57 1972.99,747.53 1974.99,747.48 1976.99,747.43 1979,747.37 1981,747.3" fill="none" stroke="#ff0000" stroke-width="3.1" stroke-linejoin="round" />
<rect x="1652" y="445" width="310" height="40.5" fill="#fff"/>
<text x="1655.2" y="470.9" font-size="27" text-anchor="start" font-family='"Liberation Sans", Arial, sans-serif' textLength="303.2" lengthAdjust="spacingAndGlyphs" >Autoregulation lower limit</text>
<line x1="1882.1" y1="566.8" x2="1777.3" y2="655.1" stroke="#333" stroke-width="1.1" />
<line x1="1882.1" y1="566.8" x2="1842.9" y2="661.9" stroke="#333" stroke-width="1.1" />
<line x1="1565.6" y1="726.4" x2="1576" y2="704" stroke="#333" stroke-width="1.1" />
<line x1="1565.6" y1="726.4" x2="1639.2" y2="662.4" stroke="#333" stroke-width="1.1" />
<text x="1799.3" y="556.5" font-size="27" text-anchor="start" font-family='"Liberation Sans", Arial, sans-serif' textLength="167.8" lengthAdjust="spacingAndGlyphs" >ACoA 1.6 mm</text>
<text x="1474.4" y="753.3" font-size="27" text-anchor="start" font-family='"Liberation Sans", Arial, sans-serif' textLength="169.6" lengthAdjust="spacingAndGlyphs" >ACoA 0.4 mm</text>
<text x="1211.1" y="827.8" font-size="33.5" text-anchor="start" font-family='"Liberation Sans", Arial, sans-serif' >100%</text>
<text x="1210.4" y="864.7" font-size="33.5" text-anchor="start" font-family='"Liberation Sans", Arial, sans-serif' textLength="76.5" lengthAdjust="spacingAndGlyphs" >ICAL</text>
<text x="1696.8" y="827.7" font-size="33.5" text-anchor="end" font-family='"Liberation Sans", Arial, sans-serif' >0%/100%</text>
<text x="1698.2" y="865.6" font-size="33.5" text-anchor="end" font-family='"Liberation Sans", Arial, sans-serif' >ICAR</text>
<text x="2000.6" y="826.6" font-size="33.5" text-anchor="end" font-family='"Liberation Sans", Arial, sans-serif' >0%</text>
<text transform="translate(1145.7,405.9) rotate(-90)" font-size="34.5" text-anchor="middle" textLength="266" lengthAdjust="spacingAndGlyphs" font-family='"Liberation Sans", Arial, sans-serif'>Pressure [mmHg]</text>
<rect x="1247" y="8" width="541.6" height="179.4" fill="#fff" stroke="#333" stroke-width="1.6"/>
<line x1="1258.2" y1="36.6" x2="1376.6" y2="36.6" stroke="#000" stroke-width="2.2" />
<line x1="1263.4" y1="77.7" x2="1371.3" y2="77.7" stroke="#000" stroke-width="2.2" stroke-dasharray="11.5 12.5"/>
<line x1="1258.2" y1="117.7" x2="1376.6" y2="117.7" stroke="#ff0000" stroke-width="3" />
<line x1="1257.7" y1="157.7" x2="1368.6" y2="157.7" stroke="#ff0000" stroke-width="3" stroke-dasharray="12.1 13"/>
<text x="1387" y="47.5" font-size="29.5" text-anchor="start" font-family='"Liberation Sans", Arial, sans-serif' textLength="271.5" lengthAdjust="spacingAndGlyphs" >0D Nonlinear model</text>
<text x="1387" y="87.5" font-size="29.5" text-anchor="start" font-family='"Liberation Sans", Arial, sans-serif' textLength="224.5" lengthAdjust="spacingAndGlyphs" >0D Linear model</text>
<text x="1387" y="126.8" font-size="29.5" text-anchor="start" font-family='"Liberation Sans", Arial, sans-serif' textLength="389.5" lengthAdjust="spacingAndGlyphs" >out of autoregulation reserve</text>
<text x="1387" y="167.5" font-size="29.5" text-anchor="start" font-family='"Liberation Sans", Arial, sans-serif' textLength="389.5" lengthAdjust="spacingAndGlyphs" >out of autoregulation reserve</text>
<text x="1086" y="55" font-size="64" text-anchor="start" font-family='"DejaVu Sans", sans-serif' stroke="#fff" stroke-width="0.9">b</text>
<text transform="translate(1122.3,58.9) scale(1.2,1)" font-size="68" stroke="#fff" stroke-width="1.6" font-family='"DejaVu Sans", sans-serif'>)</text>
</svg>
</body></html>
